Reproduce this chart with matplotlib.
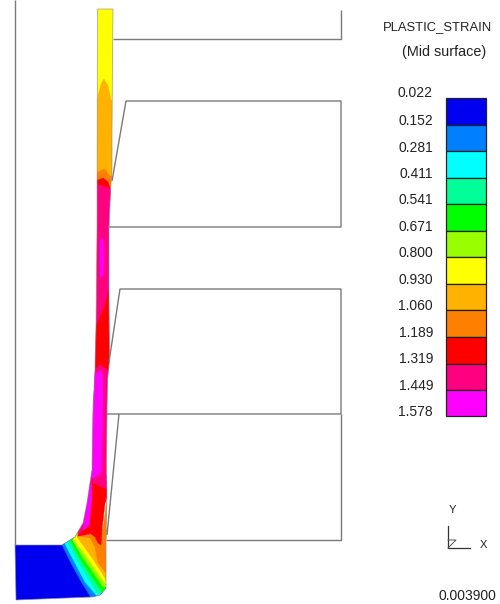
"""Plastic strain contour of a formed wall section, drawn in image pixel coordinates."""

import matplotlib
matplotlib.use("Agg")
import matplotlib.pyplot as plt
from matplotlib.patches import Polygon

plt.rcParams["font.family"] = ["Liberation Sans", "DejaVu Sans"]

LEVELS = ["0.022", "0.152", "0.281", "0.411", "0.541", "0.671", "0.800",
          "0.930", "1.060", "1.189", "1.319", "1.449", "1.578"]
BAND_COLORS = ["#0000f0", "#0080ff", "#00ffff", "#00ff99", "#00ff00", "#99ff00",
               "#ffff00", "#ffb300", "#ff8000", "#ff0000", "#ff0080", "#ff00ff"]
BAND_EDGES_Y = [98, 124.5, 151, 177.5, 204, 230.5, 257, 284, 310, 337, 363.5, 390, 416]
LABEL_Y = [93, 121, 148, 174, 200, 227, 253, 280, 306, 333, 359, 386, 412]

# tool outlines
WALL = [(15, 0), (15, 545)]
TOOLS = [
    [(113, 39), (341, 39), (341, 10)],
    [(112, 181), (126, 101), (341, 101), (341, 227), (108, 227)],
    [(109, 362), (120, 289), (341, 289), (341, 414), (107, 414)],
    [(107, 535), (119, 414)],
    [(106, 540), (341, 540), (341, 414)],
]

# outline of the sheet
SHEET = [(97.5, 9), (113, 9), (112.5, 60), (112, 130), (112, 170), (110.5, 190), (109, 230),
         (109, 300), (109.5, 360), (107.5, 380), (107, 410), (106.5, 470), (107, 497),
         (106, 540), (106, 588), (100, 595), (92, 597), (16, 600), (15, 545), (62, 545),
         (75, 537), (83, 523), (87, 503), (90, 483), (92, 470), (93, 410), (95, 370),
         (96, 327), (97, 230)]

# contour regions, painted in this order and clipped to the sheet
LOWER_CORNER = [
    ("#0000f0", [(0, 530), (120, 530), (120, 610), (0, 610)]),
    ("#0080ff", [(62, 545), (72, 565), (82, 583), (92, 599), (120, 599), (120, 530), (62, 530)]),
    ("#00ffff", [(65, 544), (75, 563), (85, 582), (97, 596), (120, 596), (120, 530), (65, 530)]),
    ("#00ff99", [(68, 543), (78, 562), (88, 578), (98, 594), (120, 594), (120, 530), (68, 530)]),
    ("#00ff00", [(71, 542), (82, 562), (92, 577), (102, 592), (120, 590), (120, 530), (71, 530)]),
    ("#99ff00", [(73, 541), (83, 558), (95, 575), (103, 587), (120, 587), (120, 530), (73, 530)]),
    ("#ffff00", [(74, 540), (87, 557), (98, 573), (105, 583), (120, 583), (120, 530), (74, 530)]),
    ("#ffb300", [(77, 537), (90, 555), (102, 573), (106, 580), (120, 580), (120, 530), (77, 530)]),
    ("#ff8000", [(79, 536), (90, 538), (95, 547), (98, 563), (106, 573), (120, 573), (120, 490),
                 (108, 490), (103, 530)]),
]
UPPER_WALL = [
    ("#ffff00", [(90, 0), (120, 0), (120, 200), (90, 200)]),
    ("#ffb300", [(90, 105), (97, 100), (101, 84), (104, 79), (108, 86), (111, 100), (120, 110),
                 (120, 200), (90, 200)]),
    ("#ff8000", [(90, 172), (98, 172), (104, 169), (110, 176), (120, 180), (120, 200), (90, 200)]),
    ("#ff0000", [(90, 182), (98, 180), (103, 178), (108, 182), (111, 191), (120, 200), (90, 200)]),
    ("#ff0080", [(90, 186), (99, 185), (109, 188), (120, 192), (120, 420), (90, 420)]),
    ("#ff0080", [(80, 360), (120, 360), (120, 490), (80, 490)]),
    ("#ff00ff", [(100, 240), (103, 238), (104, 262), (103, 275), (100, 278)]),
    ("#ff0000", [(90, 327), (97, 325), (104, 308), (109, 290), (112, 290), (112, 372), (105, 368),
                 (100, 364), (94, 370)]),
    ("#ff00ff", [(90, 378), (101, 370), (103, 378), (103, 400), (102, 440), (101, 473), (94, 478),
                 (90, 478)]),
    ("#ff0080", [(80, 490), (95, 478), (108, 475), (108, 495), (104, 505), (90, 534), (78, 536)]),
    ("#ff0000", [(78, 536), (88, 525), (91, 507), (92, 483), (97, 485), (107, 490), (105, 503),
                 (102, 530), (101, 545), (98, 543), (95, 537), (90, 533)]),
    ("#ff00ff", [(87, 505), (90, 486), (92, 484), (92, 500), (89, 526), (83, 530)]),
]

LINE_COLOR = "#7a7a7a"
TEXT_COLOR = "#222222"

fig = plt.figure(figsize=(5.0, 6.04), dpi=100)
ax = fig.add_axes([0, 0, 1, 1])
ax.set_xlim(0, 500)
ax.set_ylim(604, 0)
ax.axis("off")

sheet_clip = Polygon(SHEET, closed=True, transform=ax.transData)
for color, pts in LOWER_CORNER + UPPER_WALL:
    patch = Polygon(pts, closed=True, facecolor=color, edgecolor=color, linewidth=0.3)
    ax.add_patch(patch)
    patch.set_clip_path(sheet_clip)
ax.add_patch(Polygon(SHEET, closed=True, fill=False, edgecolor="#8a8a8a", linewidth=0.6, alpha=0.7))

for outline in [WALL] + TOOLS:
    ax.plot(*zip(*outline), color=LINE_COLOR, linewidth=1.0, solid_capstyle="butt")

# legend
for i, color in enumerate(BAND_COLORS):
    top, bottom = BAND_EDGES_Y[i], BAND_EDGES_Y[i + 1]
    ax.add_patch(Polygon([(446, top), (486, top), (486, bottom), (446, bottom)], closed=True,
                         facecolor=color, edgecolor="#222222", linewidth=0.9))
for label, y in zip(LEVELS, LABEL_Y):
    ax.text(433, y, label, ha="right", va="center", fontsize=10, color=TEXT_COLOR)

ax.text(437, 27, "PLASTIC_STRAIN", ha="center", va="center", fontsize=9.4, color=TEXT_COLOR)
ax.text(444.5, 52, "(Mid surface)", ha="center", va="center", fontsize=10.4, color=TEXT_COLOR)

# coordinate triad
ax.plot([448, 448, 470], [526, 548, 548], color="#333333", linewidth=0.9)
ax.plot([448, 456, 448], [540, 540, 548], color="#555555", linewidth=0.7)
ax.text(452, 510, "Y", ha="center", va="center", fontsize=8, color=TEXT_COLOR)
ax.text(483, 545, "X", ha="center", va="center", fontsize=8, color=TEXT_COLOR)
ax.text(467, 596, "0.003900", ha="center", va="center", fontsize=10, color=TEXT_COLOR)

fig.savefig("out.png", dpi=100)
plt.close(fig)
